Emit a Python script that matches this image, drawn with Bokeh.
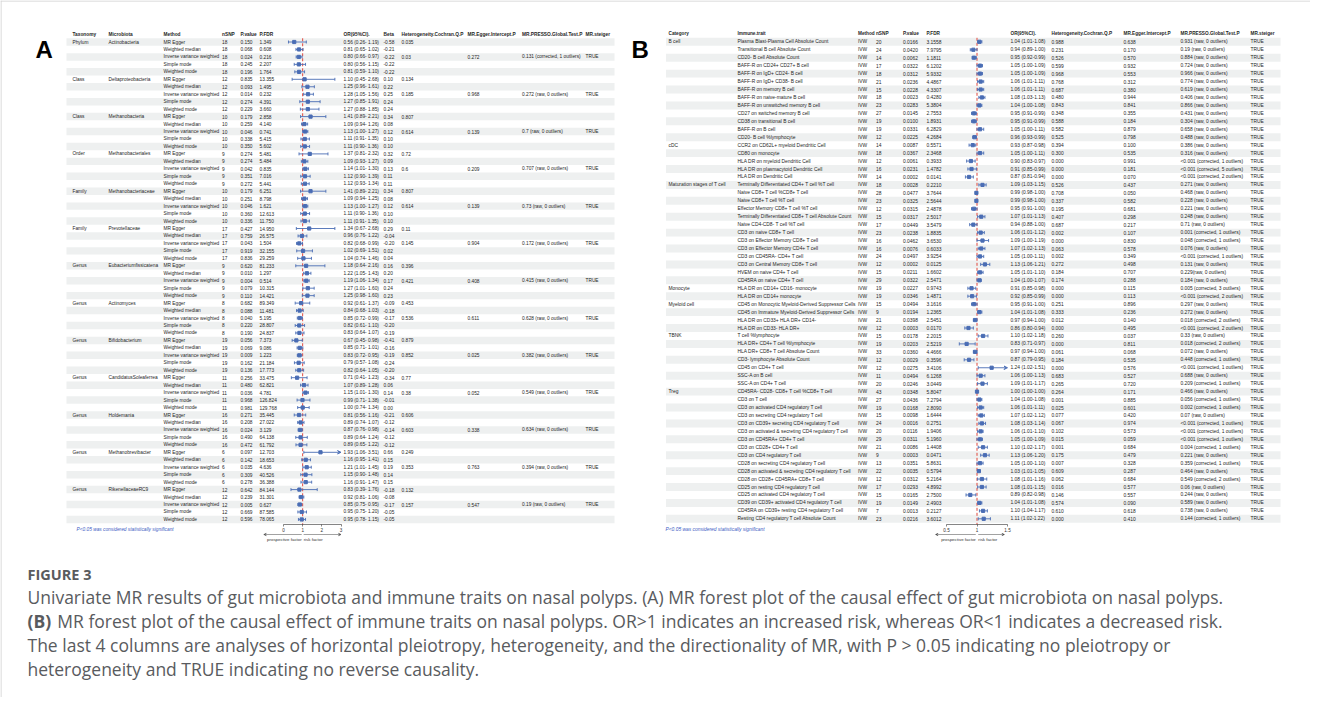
import numpy as np
from bokeh.plotting import figure
from bokeh.models import Range1d, LinearAxis, FixedTicker, Arrow, VeeHead
from bokeh.core.properties import value
from bokeh.embed import file_html
from bokeh.resources import INLINE

# ------------------------------------------------------------------ data: panel A
a_taxonomy = ["Phylum", "Class", "Class", "Order", "Family", "Family", "Genus", "Genus",
              "Genus", "Genus", "Genus", "Genus", "Genus"]
a_microbiota = ["Actinobacteria", "Deltaproteobacteria", "Methanobacteria", "Methanobacteriales",
                "Methanobacteriaceae", "Prevotellaceae", "Eubacteriumfissicatena", "Actinomyces",
                "Bifidobacterium", "CandidatusSoleaferrea", "Holdemania", "Methanobrevibacter",
                "RikenellaceaeRC9"]
a_nsnp = [18, 12, 10, 9, 10, 17, 9, 8, 19, 11, 16, 6, 12]
a_methods = ["MR Egger", "Weighted median", "Inverse variance weighted", "Simple mode", "Weighted mode"]
a_pvalue = [0.150, 0.068, 0.024, 0.245, 0.196,  0.835, 0.093, 0.014, 0.274, 0.229,
            0.179, 0.259, 0.046, 0.338, 0.350,  0.274, 0.274, 0.042, 0.351, 0.272,
            0.179, 0.251, 0.046, 0.360, 0.336,  0.427, 0.759, 0.043, 0.919, 0.836,
            0.620, 0.010, 0.004, 0.079, 0.110,  0.682, 0.088, 0.040, 0.220, 0.190,
            0.056, 0.069, 0.009, 0.162, 0.136,  0.256, 0.480, 0.036, 0.968, 0.981,
            0.271, 0.208, 0.024, 0.490, 0.472,  0.097, 0.142, 0.035, 0.309, 0.278,
            0.642, 0.239, 0.005, 0.669, 0.596]
a_pfdr = [1.349, 0.608, 0.216, 2.207, 1.764,  13.355, 1.495, 0.232, 4.391, 3.660,
          2.858, 4.140, 0.741, 5.415, 5.602,  5.481, 5.484, 0.835, 7.016, 5.441,
          6.251, 8.798, 1.621, 12.613, 11.750,  14.950, 26.575, 1.504, 32.155, 29.259,
          81.233, 1.297, 0.514, 10.315, 14.421,  89.349, 11.481, 5.195, 28.807, 24.837,
          7.373, 9.086, 1.223, 21.184, 17.773,  33.475, 62.821, 4.781, 126.824, 129.768,
          35.445, 27.022, 3.129, 64.138, 61.792,  12.703, 18.653, 4.636, 40.526, 36.388,
          84.144, 31.301, 0.627, 87.585, 78.065]
a_or = [0.56, 0.81, 0.80, 0.80, 0.81,  1.10, 1.25, 1.28, 1.27, 1.27,
        1.41, 1.09, 1.13, 1.11, 1.11,  1.37, 1.09, 1.14, 1.12, 1.12,
        1.41, 1.09, 1.13, 1.11, 1.11,  1.34, 0.96, 0.82, 1.02, 1.04,
        1.18, 1.22, 1.19, 1.27, 1.25,  0.92, 0.84, 0.85, 0.82, 0.83,
        0.67, 0.85, 0.83, 0.79, 0.82,  0.71, 1.07, 1.15, 0.99, 1.00,
        0.81, 0.89, 0.87, 0.89, 0.89,  1.93, 1.16, 1.21, 1.15, 1.16,
        0.83, 0.92, 0.85, 0.95, 0.95]
a_lo = [0.26, 0.65, 0.66, 0.56, 0.59,  0.45, 0.96, 1.05, 0.85, 0.88,
        0.89, 0.94, 1.00, 0.91, 0.90,  0.81, 0.93, 1.01, 0.90, 0.93,
        0.89, 0.94, 1.00, 0.90, 0.91,  0.67, 0.76, 0.68, 0.69, 0.74,
        0.64, 1.05, 1.06, 1.01, 0.98,  0.61, 0.68, 0.72, 0.61, 0.64,
        0.45, 0.71, 0.72, 0.57, 0.64,  0.41, 0.89, 1.01, 0.71, 0.74,
        0.56, 0.74, 0.76, 0.64, 0.65,  1.06, 0.95, 1.01, 0.90, 0.91,
        0.39, 0.81, 0.75, 0.75, 0.78]
a_hi = [1.19, 1.02, 0.97, 1.15, 1.10,  2.68, 1.61, 1.56, 1.91, 1.85,
        2.21, 1.26, 1.27, 1.35, 1.36,  2.32, 1.27, 1.30, 1.39, 1.34,
        2.21, 1.25, 1.27, 1.36, 1.35,  2.68, 1.22, 0.99, 1.51, 1.46,
        2.16, 1.43, 1.34, 1.60, 1.60,  1.37, 1.03, 0.99, 1.10, 1.07,
        0.98, 1.01, 0.95, 1.08, 1.05,  1.23, 1.28, 1.30, 1.38, 1.34,
        1.16, 1.07, 0.98, 1.24, 1.22,  3.51, 1.41, 1.45, 1.48, 1.47,
        1.76, 1.06, 0.95, 1.20, 1.15]
a_beta = [-0.58, -0.21, -0.22, -0.22, -0.22,  0.10, 0.22, 0.25, 0.24, 0.24,
          0.34, 0.08, 0.12, 0.10, 0.10,  0.32, 0.09, 0.13, 0.11, 0.11,
          0.34, 0.08, 0.12, 0.10, 0.10,  0.29, -0.04, -0.20, 0.02, 0.04,
          0.16, 0.20, 0.17, 0.24, 0.23,  -0.09, -0.18, -0.17, -0.20, -0.19,
          -0.41, -0.16, -0.19, -0.24, -0.20,  -0.34, 0.06, 0.14, -0.01, 0.00,
          -0.21, -0.12, -0.14, -0.12, -0.12,  0.66, 0.15, 0.19, 0.14, 0.15,
          -0.18, -0.08, -0.17, -0.05, -0.05]
a_het_egger = ["0.035", "0.134", "0.807", "0.72", "0.807", "0.11", "0.396", "0.453",
               "0.879", "0.77", "0.606", "0.249", "0.132"]
a_het_ivw = ["0.03", "0.185", "0.614", "0.6", "0.614", "0.145", "0.421", "0.536",
             "0.852", "0.38", "0.603", "0.353", "0.157"]
a_egger_int = ["0.272", "0.968", "0.139", "0.209", "0.139", "0.904", "0.408", "0.611",
               "0.025", "0.052", "0.338", "0.763", "0.547"]
a_presso = ["0.131 (corrected, 1 outliers)", "0.272 (raw, 0 outliers)", "0.7 (raw, 0 outliers)",
            "0.707 (raw, 0 outliers)", "0.73 (raw, 0 outliers)", "0.172 (raw, 0 outliers)",
            "0.415 (raw, 0 outliers)", "0.628 (raw, 0 outliers)", "0.382 (raw, 0 outliers)",
            "0.549 (raw, 0 outliers)", "0.634 (raw, 0 outliers)", "0.394 (raw, 0 outliers)",
            "0.19 (raw, 0 outliers)"]
a_steiger = ["TRUE", "TRUE", "TRUE", "TRUE", "TRUE", "TRUE", "TRUE", "TRUE", "TRUE",
             "TRUE", "TRUE", "TRUE", "TRUE"]
a_header = ["Taxonomy", "Microbiota", "Method", "nSNP", "P.value", "P.FDR", "OR(95%CI).", "Beta",
            "Heterogeneity.Cochran.Q.P", "MR.Egger.Intercept.P", "MR.PRESSO.Global.Test.P", "MR.steiger"]
a_ticks = [0, 1, 2, 3]

# ------------------------------------------------------------------ data: panel B
b_category = ["B cell", "cDC", "Maturation stages of T cell", "Monocyte", "Myeloid cell", "TBNK", "Treg"]
b_category_size = [13, 5, 13, 2, 4, 7, 17]
b_trait = [
    "Plasma Blast-Plasma Cell Absolute Count", "Transitional B cell Absolute Count",
    "CD20- B cell Absolute Count", "BAFF-R on CD24+ CD27+ B cell", "BAFF-R on IgD+ CD24- B cell",
    "BAFF-R on IgD+ CD38- B cell", "BAFF-R on memory B cell", "BAFF-R on naive-mature B cell",
    "BAFF-R on unswitched memory B cell", "CD27 on switched memory B cell",
    "CD38 on transitional B cell", "BAFF-R on B cell", "CD20- B cell %lymphocyte",
    "CCR2 on CD62L+ myeloid Dendritic Cell", "CD80 on monocyte", "HLA DR on myeloid Dendritic Cell",
    "HLA DR on plasmacytoid Dendritic Cell", "HLA DR on Dendritic Cell",
    "Terminally Differentiated CD4+ T cell %T cell", "Naive CD8+ T cell %CD8+ T cell",
    "Naive CD8+ T cell %T cell", "Effector Memory CD8+ T cell %T cell",
    "Terminally Differentiated CD8+ T cell Absolute Count", "Naive CD4-CD8- T cell %T cell",
    "CD3 on naive CD8+ T cell", "CD3 on Effector Memory CD8+ T cell",
    "CD3 on Effector Memory CD4+ T cell", "CD3 on CD45RA- CD4+ T cell",
    "CD3 on Central Memory CD8+ T cell", "HVEM on naive CD4+ T cell", "CD45RA on naive CD4+ T cell",
    "HLA DR on CD14+ CD16- monocyte", "HLA DR on CD14+ monocyte",
    "CD45 on Monocytic Myeloid-Derived Suppressor Cells", "CD45 on Immature Myeloid-Derived Suppressor Cells",
    "HLA DR on CD33+ HLA DR+ CD14-", "HLA DR on CD33- HLA DR+",
    "T cell %lymphocyte", "HLA DR+ CD4+ T cell %lymphocyte", "HLA DR+ CD8+ T cell Absolute Count",
    "CD3- lymphocyte Absolute Count", "CD45 on CD4+ T cell", "SSC-A on B cell", "SSC-A on CD4+ T cell",
    "CD45RA- CD28- CD8+ T cell %CD8+ T cell", "CD3 on T cell", "CD3 on activated CD4 regulatory T cell",
    "CD3 on secreting CD4 regulatory T cell", "CD3 on CD39+ secreting CD4 regulatory T cell",
    "CD3 on activated & secreting CD4 regulatory T cell", "CD3 on CD45RA+ CD4+ T cell",
    "CD3 on CD28+ CD4+ T cell", "CD3 on CD4 regulatory T cell", "CD28 on secreting CD4 regulatory T cell",
    "CD28 on activated & secreting CD4 regulatory T cell", "CD28 on CD28+ CD45RA+ CD8+ T cell",
    "CD25 on resting CD4 regulatory T cell", "CD25 on activated CD4 regulatory T cell",
    "CD39 on CD39+ activated CD4 regulatory T cell", "CD45RA on CD39+ resting CD4 regulatory T cell",
    "Resting CD4 regulatory T cell Absolute Count"]
b_method = "IVW"
b_nsnp = [20, 24, 14, 17, 18, 21, 15, 18, 23, 27, 19, 19, 12,
          14, 18, 12, 16, 14,
          18, 28, 23, 12, 15, 17, 23, 16, 16, 24, 12, 15, 29,
          19, 19,
          15, 9, 21, 12,
          15, 19, 33, 12, 12, 11, 20,
          43, 27, 19, 15, 24, 20, 29, 21, 9, 13, 22, 12, 17, 15, 19, 7, 23]
b_pvalue = [0.0166, 0.0420, 0.0062, 0.0322, 0.0312, 0.0236, 0.0228, 0.0023, 0.0283, 0.0145, 0.0100, 0.0331, 0.0225,
            0.0087, 0.0367, 0.0061, 0.0231, 0.0002,
            0.0028, 0.0477, 0.0325, 0.0315, 0.0317, 0.0449, 0.0238, 0.0462, 0.0076, 0.0497, 0.0002, 0.0211, 0.0322,
            0.0227, 0.0346,
            0.0494, 0.0194, 0.0398, 0.0003,
            0.0178, 0.0203, 0.0360, 0.0029, 0.0275, 0.0494, 0.0246,
            0.0348, 0.0436, 0.0168, 0.0098, 0.0016, 0.0116, 0.0311, 0.0086, 0.0003, 0.0351, 0.0035, 0.0312,
            0.0293, 0.0165, 0.0149, 0.0013, 0.0216]
b_pfdr = [3.1558, 7.9795, 1.1811, 6.1202, 5.9332, 4.4867, 4.3307, 0.4280, 5.3804, 2.7553, 1.8931, 6.2829, 4.2684,
          0.5571, 2.3468, 0.3933, 1.4782, 0.0141,
          0.2210, 3.7644, 2.5644, 2.4878, 2.5017, 3.5479, 1.8835, 3.6530, 0.6033, 3.9254, 0.0125, 1.6602, 2.5471,
          0.9743, 1.4871,
          3.1616, 1.2365, 2.5451, 0.0170,
          2.2015, 2.5219, 4.4666, 0.3596, 3.4106, 6.1268, 3.0449,
          5.8047, 7.2794, 2.8090, 1.6444, 0.2751, 1.9406, 5.1960, 1.4408, 0.0471, 5.8631, 0.5794, 5.2164,
          4.8992, 2.7500, 2.4903, 0.2127, 3.6012]
b_or = [1.04, 0.94, 0.95, 1.05, 1.05, 1.06, 1.06, 1.08, 1.04, 0.95, 0.95, 1.05, 0.96,
        0.93, 1.05, 0.90, 0.91, 0.87,
        1.09, 0.99, 0.99, 0.95, 1.07, 0.94, 1.06, 1.09, 1.07, 1.05, 1.13, 1.05, 1.04,
        0.91, 0.92,
        0.95, 1.04, 0.97, 0.86,
        1.10, 0.83, 0.97, 0.87, 1.24, 1.06, 1.09,
        1.00, 1.04, 1.06, 1.07, 1.08, 1.06, 1.05, 1.10, 1.13, 1.05, 1.03, 1.08, 1.08, 0.89, 1.04, 1.10, 1.11]
b_lo = [1.01, 0.89, 0.92, 1.00, 1.00, 1.01, 1.01, 1.03, 1.00, 0.91, 0.91, 1.00, 0.93,
        0.87, 1.00, 0.83, 0.85, 0.81,
        1.03, 0.98, 0.98, 0.91, 1.01, 0.88, 1.01, 1.00, 1.02, 1.00, 1.06, 1.01, 1.00,
        0.85, 0.85,
        0.91, 1.01, 0.94, 0.80,
        1.02, 0.71, 0.94, 0.79, 1.02, 1.00, 1.01,
        1.00, 1.00, 1.01, 1.02, 1.03, 1.01, 1.00, 1.02, 1.06, 1.00, 1.01, 1.01, 1.01, 0.82, 1.01, 1.04, 1.02]
b_hi = [1.08, 1.00, 0.99, 1.09, 1.09, 1.11, 1.11, 1.13, 1.08, 0.99, 0.99, 1.11, 0.99,
        0.98, 1.11, 0.97, 0.99, 0.94,
        1.15, 1.00, 1.00, 1.00, 1.13, 1.00, 1.12, 1.19, 1.13, 1.11, 1.21, 1.10, 1.07,
        0.98, 0.99,
        1.00, 1.08, 1.00, 0.94,
        1.18, 0.97, 1.00, 0.95, 1.51, 1.13, 1.17,
        1.00, 1.08, 1.11, 1.12, 1.14, 1.10, 1.09, 1.17, 1.20, 1.10, 1.05, 1.16, 1.15, 0.98, 1.08, 1.17, 1.22]
b_het = [0.988, 0.231, 0.526, 0.599, 0.968, 0.768, 0.687, 0.480, 0.843, 0.348, 0.588, 0.582, 0.525,
         0.394, 0.300, 0.000, 0.000, 0.000,
         0.526, 0.708, 0.337, 0.195, 0.407, 0.687, 0.002, 0.000, 0.063, 0.002, 0.272, 0.184, 0.174,
         0.000, 0.000,
         0.251, 0.333, 0.012, 0.000,
         0.260, 0.000, 0.061, 0.184, 0.000, 0.683, 0.265,
         0.264, 0.001, 0.025, 0.077, 0.067, 0.102, 0.015, 0.001, 0.175, 0.007, 0.609, 0.062, 0.016, 0.146,
         0.574, 0.610, 0.000]
b_egger_int = [0.638, 0.170, 0.570, 0.932, 0.553, 0.312, 0.380, 0.944, 0.841, 0.355, 0.184, 0.879, 0.798,
               0.100, 0.535, 0.991, 0.181, 0.070,
               0.437, 0.050, 0.582, 0.681, 0.298, 0.217, 0.107, 0.830, 0.578, 0.349, 0.498, 0.707, 0.288,
               0.115, 0.113,
               0.896, 0.236, 0.140, 0.495,
               0.037, 0.811, 0.068, 0.535, 0.576, 0.527, 0.720,
               0.171, 0.885, 0.601, 0.420, 0.974, 0.573, 0.059, 0.684, 0.479, 0.328, 0.287, 0.684, 0.577, 0.557,
               0.090, 0.618, 0.410]
b_presso = [
    "0.931 (raw, 0 outliers)", "0.19 (raw, 0 outliers)", "0.884 (raw, 0 outliers)", "0.724 (raw, 0 outliers)",
    "0.966 (raw, 0 outliers)", "0.774 (raw, 0 outliers)", "0.619 (raw, 0 outliers)", "0.406 (raw, 0 outliers)",
    "0.866 (raw, 0 outliers)", "0.431 (raw, 0 outliers)", "0.304 (raw, 0 outliers)", "0.658 (raw, 0 outliers)",
    "0.488 (raw, 0 outliers)",
    "0.386 (raw, 0 outliers)", "0.316 (raw, 0 outliers)", "<0.001 (corrected, 1 outliers)",
    "<0.001 (corrected, 5 outliers)", "<0.001 (corrected, 2 outliers)",
    "0.271 (raw, 0 outliers)", "0.468 (raw, 0 outliers)", "0.228 (raw, 0 outliers)", "0.221 (raw, 0 outliers)",
    "0.248 (raw, 0 outliers)", "0.71 (raw, 0 outliers)", "0.001 (corrected, 1 outliers)",
    "0.048 (corrected, 1 outliers)", "0.076 (raw, 0 outliers)", "<0.001 (corrected, 1 outliers)",
    "0.131 (raw, 0 outliers)", "0.229(raw, 0 outliers)", "0.184 (raw, 0 outliers)",
    "0.005 (corrected, 3 outliers)", "<0.001 (corrected, 2 outliers)",
    "0.297 (raw, 0 outliers)", "0.272 (raw, 0 outliers)", "0.018 (corrected, 2 outliers)",
    "<0.001 (corrected, 2 outliers)",
    "0.33 (raw, 0 outliers)", "0.018 (corrected, 2 outliers)", "0.072 (raw, 0 outliers)",
    "0.448 (corrected, 1 outliers)", "<0.001 (corrected, 1 outliers)", "0.688 (raw, 0 outliers)",
    "0.209 (corrected, 1 outliers)",
    "0.466 (raw, 0 outliers)", "0.056 (corrected, 1 outliers)", "0.002 (corrected, 1 outliers)",
    "0.07 (raw, 0 outliers)", "<0.001 (corrected, 1 outliers)", "<0.001 (corrected, 1 outliers)",
    "<0.001 (corrected, 1 outliers)", "0.004 (corrected, 1 outliers)", "0.221 (raw, 0 outliers)",
    "0.359 (corrected, 1 outliers)", "0.464 (raw, 0 outliers)", "0.549 (corrected, 2 outliers)",
    "0.06 (raw, 0 outliers)", "0.244 (raw, 0 outliers)", "0.589 (raw, 0 outliers)", "0.738 (raw, 0 outliers)",
    "0.144 (corrected, 1 outliers)"]
b_steiger = ["TRUE"] * len(b_trait)
b_header = ["Category", "Immune.trait", "Method", "nSNP", "P.value", "P.FDR", "OR(95%CI).",
            "Heterogeneity.Cochran.Q.P", "MR.Egger.Intercept.P", "MR.PRESSO.Global.Test.P", "MR.steiger"]
b_ticks = [0.5, 1, 1.5]

footnote = "P<0.05 was considered statistically significant"
arrow_labels = ["prospective factor", "risk factor"]
caption_title = "FIGURE 3"
caption_lines = [
    "Univariate MR results of gut microbiota and immune traits on nasal polyps. (A) MR forest plot of the causal effect of gut microbiota on nasal polyps.",
    "MR forest plot of the causal effect of immune traits on nasal polyps. OR>1 indicates an increased risk, whereas OR<1 indicates a decreased risk.",
    "The last 4 columns are analyses of horizontal pleiotropy, heterogeneity, and the directionality of MR, with P > 0.05 indicating no pleiotropy or",
    "heterogeneity and TRUE indicating no reverse causality.",
]
caption_bold_lead = "(B)"

# ------------------------------------------------------------------ layout (page pixels)
W, H = 1310, 697
OX, OY = 8, 8
BLUE = "#4a6db4"
RED = "#e2483d"
STRIPE = "#eef0f0"
INK = "#262626"
TFONT = value("Liberation Sans")

p = figure(width=W, height=H, output_backend="svg", toolbar_location=None,
           x_range=Range1d(OX, OX + W), y_range=Range1d(OY + H, OY),
           x_axis_location=None, y_axis_location=None, min_border=0)
p.grid.visible = False
p.outline_line_color = None
p.background_fill_color = "white"
p.border_fill_color = "white"


def row_range(y_first, pitch):
    # row index r is drawn at page y = y_first + r * pitch
    return Range1d(start=(OY + H - y_first) / pitch, end=(OY - y_first) / pitch)


def or_range(px0, v0, px1, v1):
    k = (px1 - px0) / (v1 - v0)
    return Range1d(start=v0 - (px0 - OX) / k, end=v0 + (OX + W - px0) / k)


YA0, PA = 49.5, 7.46
YB0, PB = 49.3, 7.95
p.extra_y_ranges = {"rowA": row_range(YA0, PA), "rowB": row_range(YB0, PB)}
p.extra_x_ranges = {"orA": or_range(291.0, 0.0, 348.5, 3.0), "orB": or_range(954.0, 0.5, 1015.0, 1.5)}

# frame lines
p.segment(x0=[OX, OX + 0.5], y0=[OY + 0.5, OY], x1=[OX + W, OX + 0.5], y1=[OY + 0.5, OY + H],
          line_color="#cfcfcf", line_width=1)

# panel letters
p.text(x=[43, 639], y=[57, 57], text=["A", "B"], text_font=TFONT, text_font_style="bold",
       text_font_size="24px", text_color="black", text_baseline="middle")


def col_text(x, rows, texts, rng, size, bold=False, color=INK, italic=False, align="left"):
    style = "bold" if bold else ("italic" if italic else "normal")
    p.text(x=x, y=rows, text=texts, y_range_name=rng, text_font=TFONT, text_font_size=size,
           text_font_style=style, text_color=color, text_align=align, text_baseline="middle")


def forest(rows, orv, lo, hi, ticks, xr, yr, ref_bottom):
    rows = np.asarray(rows, dtype=float)
    orv, lo, hi = np.asarray(orv), np.asarray(lo), np.asarray(hi)
    xmax = ticks[-1]
    clip = hi > xmax
    ok = ~clip
    # reference line at OR = 1
    p.segment(x0=[1], x1=[1], y0=[-0.5], y1=[ref_bottom], x_range_name=xr, y_range_name=yr,
              line_color=RED, line_width=1, line_dash="3 2")
    p.segment(x0=lo[ok], x1=hi[ok], y0=rows[ok], y1=rows[ok], x_range_name=xr, y_range_name=yr,
              line_color=BLUE, line_width=0.9)
    p.segment(x0=lo, x1=lo, y0=rows - 0.2, y1=rows + 0.2, x_range_name=xr, y_range_name=yr,
              line_color=BLUE, line_width=0.9)
    p.segment(x0=hi[ok], x1=hi[ok], y0=rows[ok] - 0.2, y1=rows[ok] + 0.2, x_range_name=xr,
              y_range_name=yr, line_color=BLUE, line_width=0.9)
    for l, r in zip(lo[clip], rows[clip]):
        p.add_layout(Arrow(x_start=float(l), y_start=float(r), x_end=float(xmax), y_end=float(r),
                           x_range_name=xr, y_range_name=yr, line_color=BLUE, line_width=0.9,
                           end=VeeHead(size=3.5, line_color=BLUE, line_width=0.9, fill_color=BLUE)))
    p.scatter(x=orv, y=rows, marker="square", size=3.2, x_range_name=xr, y_range_name=yr,
              fill_color=BLUE, line_color=BLUE)


def forest_axis(xr, ticks, y_axis, size):
    ax = LinearAxis(x_range_name=xr, fixed_location=y_axis, bounds=(ticks[0], ticks[-1]),
                    ticker=FixedTicker(ticks=ticks), axis_line_color="#333333", axis_line_width=0.6,
                    major_tick_line_color="#333333", major_tick_line_width=0.6,
                    major_tick_out=2, major_tick_in=0, minor_tick_out=0, minor_tick_in=0,
                    major_label_text_font_size=size, major_label_text_font="Liberation Sans",
                    major_label_text_color="#333333", major_label_standoff=1)
    p.add_layout(ax, "below")


# ------------------------------------------------------------------ panel A table
nA = len(a_pvalue)
rowsA = np.arange(nA)
n_m = len(a_methods)
tax_col, mic_col, met_col, nsnp_col = [], [], [], []
het_col, egg_col, pre_col, ste_col = [], [], [], []
for g in range(len(a_taxonomy)):
    for m in range(n_m):
        tax_col.append(a_taxonomy[g] if m == 0 else "")
        mic_col.append(a_microbiota[g] if m == 0 else "")
        met_col.append(a_methods[m])
        nsnp_col.append(str(a_nsnp[g]))
        het_col.append(a_het_egger[g] if m == 0 else (a_het_ivw[g] if m == 2 else ""))
        egg_col.append(a_egger_int[g] if m == 2 else "")
        pre_col.append(a_presso[g] if m == 2 else "")
        ste_col.append(a_steiger[g] if m == 2 else "")
orA_txt = [f"{o:.2f} ({l:.2f}- {h:.2f})" for o, l, h in zip(a_or, a_lo, a_hi)]

p.hbar(y=rowsA[::2], left=74, right=622, height=1.0, y_range_name="rowA",
       fill_color=STRIPE, line_color=None)

A_X = [80, 116, 171, 229.5, 248, 267, 351, 391, 409, 475, 529.5, 593]
SZA = "4.8px"
col_text(A_X, [-1] * len(a_header), a_header, "rowA", SZA, bold=True)
colsA = [tax_col, mic_col, met_col, nsnp_col, [f"{v:.3f}" for v in a_pvalue],
         [f"{v:.3f}" for v in a_pfdr], orA_txt, [f"{v:.2f}" for v in a_beta],
         het_col, egg_col, pre_col, ste_col]
for x, c in zip(A_X, colsA):
    col_text(x, rowsA, c, "rowA", SZA)

AXIS_Y = 532.0
forest(rowsA, a_or, a_lo, a_hi, a_ticks, "orA", "rowA", (AXIS_Y - YA0) / PA)
forest_axis("orA", a_ticks, AXIS_Y, "4.6px")
col_text(84, [(AXIS_Y + 4.5 - YA0) / PA], [footnote], "rowA", SZA, italic=True, color="#3d5cc4")

# ------------------------------------------------------------------ panel B table
nB = len(b_trait)
rowsB = np.arange(nB)
cat_col = []
for c, n in zip(b_category, b_category_size):
    cat_col += [c] + [""] * (n - 1)
orB_txt = [f"{o:.2f} ({l:.2f}-{h:.2f})" for o, l, h in zip(b_or, b_lo, b_hi)]

p.hbar(y=rowsB[::2], left=673.5, right=1288, height=1.0, y_range_name="rowB",
       fill_color=STRIPE, line_color=None)

B_X = [676, 745, 865.5, 883.5, 910.5, 934, 1018, 1059, 1131, 1188, 1258]
SZB = "4.9px"
col_text(B_X, [-1] * len(b_header), b_header, "rowB", "4.7px", bold=True)
colsB = [cat_col, b_trait, [b_method] * nB, [str(v) for v in b_nsnp],
         [f"{v:.4f}" for v in b_pvalue], [f"{v:.4f}" for v in b_pfdr], orB_txt,
         [f"{v:.3f}" for v in b_het], [f"{v:.3f}" for v in b_egger_int], b_presso, b_steiger]
for x, c in zip(B_X, colsB):
    col_text(x, rowsB, c, "rowB", SZB)

forest(rowsB, b_or, b_lo, b_hi, b_ticks, "orB", "rowB", (AXIS_Y - YB0) / PB)
forest_axis("orB", b_ticks, AXIS_Y, "4.6px")
col_text(673, [(AXIS_Y + 4.5 - YB0) / PB], [footnote], "rowB", SZB, italic=True, color="#3d5cc4")

# arrows with labels under the axes
for xr, lspan, rspan in (("orA", (0.95, -1.03), (1.05, 3.0)), ("orB", (0.98, 0.32), (1.02, 1.45))):
    for (a, b) in (lspan, rspan):
        p.add_layout(Arrow(x_start=a, y_start=AXIS_Y + 10, x_end=b, y_end=AXIS_Y + 10, x_range_name=xr,
                           line_color="#444444", line_width=0.5,
                           end=VeeHead(size=2.5, line_color="#444444", line_width=0.5,
                                       fill_color="#444444")))
    p.text(x=[lspan[0]], y=[AXIS_Y + 14.5], text=[arrow_labels[0]], x_range_name=xr, text_font=TFONT,
           text_font_size="4.4px", text_color="#333333", text_align="right", text_baseline="middle")
    p.text(x=[rspan[0]], y=[AXIS_Y + 14.5], text=[arrow_labels[1]], x_range_name=xr, text_font=TFONT,
           text_font_size="4.4px", text_color="#333333", text_align="left", text_baseline="middle")

# ------------------------------------------------------------------ caption
CAP = "#595b5e"
CFONT = value("Open Sans")
CSIZE = 17.5
p.text(x=[35], y=[582], text=[caption_title], text_font=CFONT, text_font_style="bold",
       text_font_size="14.5px", text_color=CAP, text_baseline="middle")
cap_y = [604, 628, 652, 676]
p.text(x=[35], y=[cap_y[1]], text=[caption_bold_lead], text_font=CFONT,
       text_font_style="bold", text_font_size=f"{CSIZE}px", text_color=CAP, text_baseline="middle")
lead_w = (1.447 + 0.26) * CSIZE
p.text(x=[35, 35 + lead_w, 35, 35], y=cap_y, text=caption_lines, text_font=CFONT,
       text_font_size=f"{CSIZE}px", text_color=CAP, text_baseline="middle")

open("out.html", "w").write(file_html(p, INLINE))
